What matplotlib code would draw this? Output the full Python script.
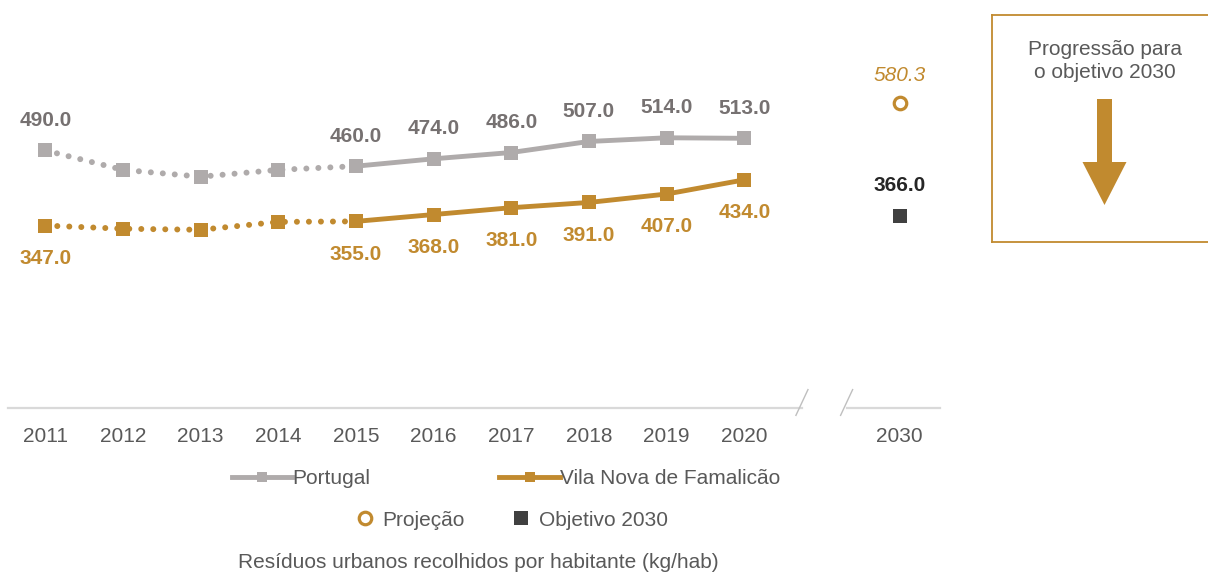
import matplotlib
matplotlib.use("Agg")
import matplotlib.pyplot as plt
import matplotlib.patches as mpatches
from matplotlib.lines import Line2D
from matplotlib.transforms import blended_transform_factory

plt.rcParams["font.family"] = ["Liberation Sans", "DejaVu Sans"]

# ── Data ──────────────────────────────────────────────────────────────────────
years = ["2011", "2012", "2013", "2014", "2015", "2016", "2017", "2018", "2019", "2020"]
portugal = [490.0, 453.0, 440.0, 453.0, 460.0, 474.0, 486.0, 507.0, 514.0, 513.0]
famalicao = [347.0, 341.0, 339.0, 354.0, 355.0, 368.0, 381.0, 391.0, 407.0, 434.0]
labelled = [0, 4, 5, 6, 7, 8, 9]          # points that carry a value label
target_year = "2030"
projection_2030 = 580.3
objective_2030 = 366.0

GRAY = "#AFABAB"
GRAY_TXT = "#767171"
GOLD = "#C18A2F"
DARK = "#404040"
TXT = "#595959"
FS = 15

W, H = 1208, 576
fig = plt.figure(figsize=(W / 100, H / 100), dpi=100)

# main axes: bottom at y=408 px, left 8 px, right 940 px
ax = fig.add_axes([8 / W, (H - 408) / H, (940 - 8) / W, (408 - 40) / H])
xs = list(range(len(years)))
x2030 = len(years) + 1
ax.set_xlim(-0.48, 11.52)
ax.set_ylim(0, 700)
for s in ax.spines.values():
    s.set_visible(False)
ax.set_yticks([])
ax.set_xticks(xs + [x2030])
ax.set_xticklabels(years + [target_year], fontsize=FS, color=TXT)
ax.tick_params(axis="x", length=0, pad=14)

# broken baseline
trans = blended_transform_factory(ax.transData, ax.transAxes)
ax.plot([-0.48, 9.74], [0, 0], transform=trans, color="#D9D9D9", lw=1.6, clip_on=False)
ax.plot([10.32, 11.52], [0, 0], transform=trans, color="#D9D9D9", lw=1.6, clip_on=False)
for bx in (9.665, 10.24):
    ax.plot([bx, bx + 0.155], [-0.02, 0.05], transform=trans, color="#BFBFBF",
            lw=1.0, clip_on=False)

dotted = (0, (0.01, 2.0))
for vals, col in ((portugal, GRAY), (famalicao, GOLD)):
    ax.plot(xs[:5], vals[:5], color=col, lw=4.3, linestyle=dotted,
            dash_capstyle="round", zorder=2)
    ax.plot(xs[4:], vals[4:], color=col, lw=3.5, solid_capstyle="butt", zorder=2)
    ax.plot(xs, vals, linestyle="none", marker="s", ms=9.5, color=col,
            markeredgewidth=0, zorder=3)

for i in labelled:
    ax.annotate(f"{portugal[i]:.1f}", (xs[i], portugal[i]), xytext=(0, 21.5),
                textcoords="offset points", ha="center", va="center",
                fontsize=FS, fontweight="bold", color=GRAY_TXT)
    ax.annotate(f"{famalicao[i]:.1f}", (xs[i], famalicao[i]), xytext=(0, -23.5),
                textcoords="offset points", ha="center", va="center",
                fontsize=FS, fontweight="bold", color=GOLD)

# 2030 projection and target
ax.plot([x2030], [projection_2030], linestyle="none", marker="o", ms=9,
        mfc="white", mec=GOLD, mew=2.3, zorder=3)
ax.annotate(f"{projection_2030:.1f}", (x2030, projection_2030), xytext=(0, 20),
            textcoords="offset points", ha="center", va="center",
            fontsize=FS, fontstyle="italic", color=GOLD)
ax.plot([x2030], [objective_2030], linestyle="none", marker="s", ms=10,
        color=DARK, markeredgewidth=0, zorder=3)
ax.annotate(f"{objective_2030:.1f}", (x2030, objective_2030), xytext=(0, 21.5),
            textcoords="offset points", ha="center", va="center",
            fontsize=FS, fontweight="bold", color="#262626")

# legends
h1 = [Line2D([], [], color=GRAY, lw=3.5, marker="s", ms=7, mew=0),
      Line2D([], [], color=GOLD, lw=3.5, marker="s", ms=7, mew=0)]
leg1 = fig.legend(h1, ["Portugal", "Vila Nova de Famalicão"], ncol=2,
                  loc="center", bbox_to_anchor=(506 / W, 1 - 479 / H),
                  frameon=False, fontsize=FS, handlelength=2.9, handletextpad=0.0,
                  columnspacing=6.2, borderpad=0, borderaxespad=0)
for t in leg1.get_texts():
    t.set_color(TXT)

h2 = [Line2D([], [], linestyle="none", marker="o", ms=9, mfc="white", mec=GOLD, mew=2.3),
      Line2D([], [], linestyle="none", marker="s", ms=10, color=DARK, mew=0)]
leg2 = fig.legend(h2, ["Projeção", "Objetivo 2030"], ncol=2,
                  loc="center", bbox_to_anchor=(511 / W, 1 - 520 / H),
                  frameon=False, fontsize=FS, handlelength=1.0, handletextpad=0.35,
                  columnspacing=2.2, borderpad=0, borderaxespad=0)
for t in leg2.get_texts():
    t.set_color(TXT)

fig.text(478 / W, 1 - 563 / H, "Resíduos urbanos recolhidos por habitante (kg/hab)",
         ha="center", va="center", fontsize=FS, color=TXT)

# side box: progression towards 2030 target
bx = fig.add_axes([992 / W, (H - 242) / H, 220 / W, 227 / H])
bx.set_xlim(0, 220)
bx.set_ylim(227, 0)
bx.set_xticks([])
bx.set_yticks([])
for s in bx.spines.values():
    s.set_color(GOLD)
    s.set_linewidth(1.3)
bx.text(113, 46, "Progressão para\no objetivo 2030", ha="center", va="center",
        fontsize=FS, color=TXT, linespacing=1.25)
bx.add_patch(mpatches.FancyArrow(112.5, 84, 0, 106, width=15, head_width=44,
                                 head_length=43, length_includes_head=True,
                                 color=GOLD, lw=0))

fig.savefig("out.png", dpi=100)
